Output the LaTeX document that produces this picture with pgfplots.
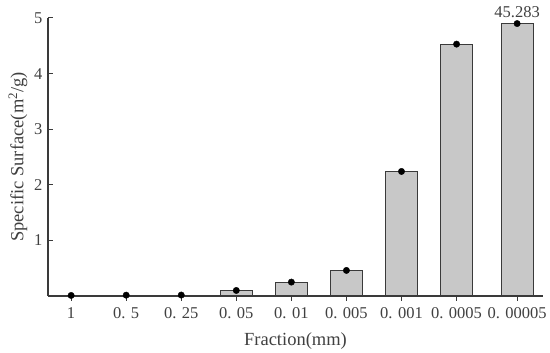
\documentclass[border=0pt]{standalone}
\usepackage{pgfplots}
\pgfplotsset{compat=1.18}
\usepackage{fontspec}
\setmainfont{Liberation Serif}
\definecolor{barfill}{HTML}{C8C8C8}
\definecolor{edge}{HTML}{3A3A3A}
\begin{document}
\begin{tikzpicture}
\begin{axis}[name=ax,
  scale only axis, width=495pt, height=278pt,
  xmin=-0.42, xmax=8.57, ymin=0, ymax=5,
  axis x line=bottom, axis y line=left,
  axis line style={edge, line width=1.3pt, -},
  xtick={0,1,2,3,4,5,6,7,8.1},
  xticklabels={1,0. 5,0. 25,0. 05,0. 01,0. 005,0. 001,0. 0005,0. 00005},
  ytick={1,2,3,4,5},
  x tick style={edge, line width=1pt},
  y tick style={edge, line width=1pt},
  major tick length=5pt,
  xtick align=outside, ytick align=inside,
  tick label style={font=\fontsize{16.5}{18}\selectfont, text=black!75},
  xticklabel style={yshift=-3pt},
  yticklabel style={xshift=-2pt},
  /pgf/number format/assume math mode=true,
  xlabel={Fraction(mm)}, ylabel={Specific Surface(m\textsuperscript{2}/g)},
  label style={font=\fontsize{18.5}{20}\selectfont, text=black!75},
  xlabel style={yshift=-7pt},
  ylabel style={yshift=0pt},
  clip=false,
]
\addplot[ybar, bar width=0.58, fill=barfill, draw=edge, line width=1pt]
  coordinates {(0,0.005) (1,0.012) (2,0.014) (3,0.09) (4,0.25) (5,0.46) (6,2.24) (7,4.53) (8.1,4.9)};
\addplot[only marks, mark=*, mark size=3.2pt, black]
  coordinates {(0,0.01) (1,0.015) (2,0.017) (3,0.1) (4,0.25) (5,0.46) (6,2.24) (7,4.53) (8.1,4.9)};
\node[anchor=south, font=\fontsize{16.5}{18}\selectfont, text=black!75, inner sep=1pt, yshift=2.5pt] at (axis cs:8.1,4.93) {45.283};
\end{axis}
\pgfresetboundingbox
\path ([xshift=-48pt,yshift=-57pt]ax.south west) rectangle ([xshift=7pt,yshift=18pt]ax.north east);
\end{tikzpicture}
\end{document}
